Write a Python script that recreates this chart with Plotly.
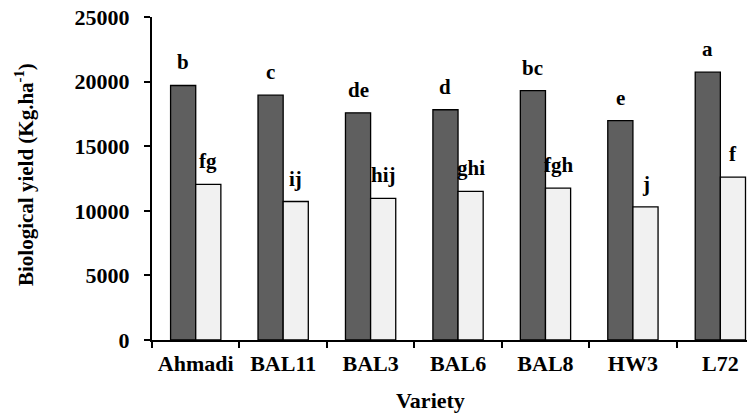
import plotly.graph_objects as go

varieties = ["Ahmadi", "BAL11", "BAL3", "BAL6", "BAL8", "HW3", "L72"]
series_dark = [19700, 18950, 17580, 17820, 19300, 16980, 20730]
series_light = [12050, 10720, 10960, 11500, 11750, 10300, 12600]
letters_dark = ["b", "c", "de", "d", "bc", "e", "a"]
letters_light = ["fg", "ij", "hij", "ghi", "fgh", "j", "f"]
y_ticks = [0, 5000, 10000, 15000, 20000, 25000]

FONT = "Liberation Serif, Times New Roman, serif"
# page body has an 8px default margin; offset the figure so the plot lands where the reference has it
OFF = 8
W, H = 755 - OFF, 415 - OFF
ML, MT = 152 - OFF, 17 - OFF
MB = H - (340 - OFF)
MR = 0
plot_w = W - ML - MR
plot_h = H - MT - MB

fig = go.Figure()
fig.add_trace(go.Bar(x=varieties, y=series_dark, name="Treatment 1",
                     marker=dict(color="#5f5f5f", line=dict(color="black", width=1.3))))
fig.add_trace(go.Bar(x=varieties, y=series_light, name="Treatment 2",
                     marker=dict(color="#f1f1f1", line=dict(color="black", width=1.3))))

ann = []
half = 12.6
for i, v in enumerate(varieties):
    ann.append(dict(x=v, y=series_dark[i], text=letters_dark[i], xref="x", yref="y",
                    xanchor="center", yanchor="bottom", xshift=-half, yshift=9,
                    showarrow=False, font=dict(family=FONT, size=21, color="black", weight="bold")))
    ann.append(dict(x=v, y=series_light[i], text=letters_light[i], xref="x", yref="y",
                    xanchor="center", yanchor="bottom", xshift=half, yshift=9,
                    showarrow=False, font=dict(family=FONT, size=21, color="black", weight="bold")))

ann.append(dict(text="Biological yield (Kg.ha<sup>-1</sup>)", xref="paper", yref="paper",
                x=0, xshift=-(152 - 24), y=(340 - 175) / plot_h, textangle=-90,
                xanchor="center", yanchor="middle", showarrow=False,
                font=dict(family=FONT, size=21, color="black", weight="bold")))
ann.append(dict(text="Variety", xref="paper", yref="paper",
                x=(430 - 152) / plot_w, y=-(400 - 340) / plot_h,
                xanchor="center", yanchor="middle", showarrow=False,
                font=dict(family=FONT, size=22, color="black", weight="bold")))

x_end = -0.5 + plot_w / 87.44

fig.update_layout(
    width=W, height=H,
    margin=dict(l=ML, r=MR, t=MT, b=MB, pad=0, autoexpand=False),
    paper_bgcolor="white", plot_bgcolor="white",
    barmode="group", bargap=0.425, bargroupgap=0,
    showlegend=False,
    font=dict(family=FONT, color="black"),
    annotations=ann,
)
fig.update_xaxes(type="category", range=[-0.5, x_end], showline=True, linecolor="black",
                 linewidth=2, ticks="outside", tickson="boundaries", ticklen=6, tickwidth=2,
                 tickcolor="black", showgrid=False, zeroline=False, automargin=False,
                 ticklabelstandoff=3,
                 tickfont=dict(family=FONT, size=22, color="black", weight="bold"))
fig.update_yaxes(range=[0, 25000], tickvals=y_ticks, tickformat="d", showline=True,
                 linecolor="black", automargin=False, ticklabeloverflow="allow",
                 linewidth=2, ticks="outside", ticklen=6, tickwidth=2, tickcolor="black",
                 showgrid=False, zeroline=False, ticklabelstandoff=10,
                 tickfont=dict(family=FONT, size=22, color="black", weight="bold"))

fig.write_html("out.html")
